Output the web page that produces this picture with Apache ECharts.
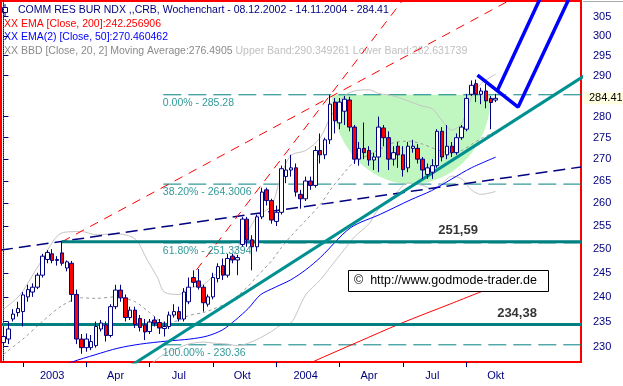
<!DOCTYPE html>
<html><head><meta charset="utf-8">
<script src="https://cdn.jsdelivr.net/npm/echarts@6/dist/echarts.min.js"></script>
<style>html,body{margin:0;padding:0;background:#fff}#c{width:623px;height:386px}</style>
</head><body><div id="c"></div>
<script>
const FONT = '"Liberation Sans", Arial, sans-serif';

// ---- categories: weekly candles from 08.12.2002 plus empty future weeks ----
const firstWeekUTC = Date.UTC(2002, 11, 8);
const weekCount = 119;
function pad(n){return (n<10?'0':'')+n;}
const categories = [];
for (let i = 0; i < weekCount; i++) {
  const d = new Date(firstWeekUTC + i * 7 * 86400000);
  categories.push(pad(d.getUTCDate()) + '.' + pad(d.getUTCMonth() + 1) + '.' + d.getUTCFullYear());
}

// ---- x axis ticks / labels ----
const xTickIdx = [4, 17, 30, 43, 56, 69, 82, 95];
const xLabelIdx = [10, 23, 36, 49, 62, 75, 88, 101];
const xLabelText = ['2003', 'Apr', 'Jul', 'Okt', '2004', 'Apr', 'Jul', 'Okt'];

// ---- y axis ticks ----
const yTickValues = [230, 235, 240, 245, 250, 255, 260, 265, 270, 275, 280, 290, 295, 300, 305];
const lastPrice = [284.41];

// ---- weekly candles [open, close, low, high] ----
const weeklyOHLC = [
[230.8,232.0,230.2,234.0],[231.5,233.5,230.5,235.0],[235.5,236.5,235.0,237.5],[236.8,237.6,236.0,239.0],
[237.0,240.4,234.0,241.0],[240.0,241.5,239.0,242.5],[241.0,242.0,240.0,242.8],[242.0,244.5,241.6,245.0],
[244.5,248.5,244.0,249.0],[247.8,249.3,247.0,249.8],[249.0,247.6,247.0,250.0],[247.6,247.8,246.5,248.5],
[249.2,247.0,246.5,251.59],[246.0,247.3,245.3,247.6],[247.0,240.5,239.0,247.5],[240.5,231.5,230.5,241.5],
[231.5,229.8,228.6,232.5],[229.8,231.5,229.0,232.6],[229.8,231.0,229.3,232.3],[230.2,234.0,229.8,235.0],
[233.5,234.7,233.0,235.3],[234.3,232.2,231.0,235.0],[232.2,238.0,231.8,238.5],[238.0,241.4,237.5,242.5],
[241.4,239.8,239.0,242.5],[239.8,235.8,235.0,240.5],[235.8,237.3,235.3,238.0],[237.3,234.4,233.7,238.0],
[235.6,233.8,233.0,236.3],[234.3,232.9,231.3,235.5],[233.0,234.9,232.5,235.5],[235.3,234.7,234.0,236.0],
[234.8,233.7,232.5,235.5],[233.6,234.0,232.0,235.0],[234.0,236.3,233.5,237.0],[236.3,237.0,235.8,238.5],
[237.0,235.5,235.0,238.0],[235.5,241.0,235.0,241.8],[239.0,242.0,238.5,244.0],[244.0,243.0,242.0,245.5],
[243.3,242.0,241.5,245.8],[242.0,238.8,237.0,242.5],[238.5,240.0,238.0,240.5],[240.0,244.0,239.5,245.0],
[243.8,246.3,243.0,247.0],[246.5,244.5,243.5,248.0],[244.5,248.0,244.0,249.0],[248.5,247.7,247.0,249.0],
[247.7,248.2,244.5,248.8],[251.0,256.5,250.5,257.0],[256.5,252.0,250.5,257.0],[252.0,250.5,245.5,253.0],
[250.5,257.0,249.5,257.5],[257.0,262.5,256.5,263.5],[263.0,260.6,259.5,263.5],[260.6,256.3,255.5,261.0],
[256.0,258.0,255.0,259.5],[258.0,267.8,257.5,268.5],[266.0,267.5,264.5,270.0],[267.5,268.0,266.0,271.0],
[268.0,262.5,261.5,269.0],[262.0,261.0,258.8,263.0],[261.0,265.0,260.5,266.0],[265.0,264.0,263.0,266.0],
[264.0,272.0,263.5,273.0],[272.0,271.0,269.0,276.0],[271.0,274.5,270.0,275.0],[274.5,283.0,273.5,285.28],
[283.5,279.0,276.0,284.5],[278.5,283.5,277.0,284.5],[281.3,284.2,278.0,285.0],[284.0,277.5,276.5,284.8],
[277.5,270.0,268.9,278.0],[270.0,272.5,268.5,274.0],[272.5,271.5,270.0,278.6],[272.0,269.8,268.5,273.0],
[269.8,270.5,267.5,271.5],[270.5,277.5,267.0,280.0],[277.3,275.0,273.0,278.0],[275.0,270.0,267.5,276.5],
[270.0,271.5,268.5,273.0],[273.0,271.0,268.0,274.0],[271.0,267.6,266.0,273.0],[268.0,273.0,267.0,274.0],
[272.5,273.0,271.5,274.5],[272.5,270.0,269.0,273.5],[270.0,267.5,265.5,270.5],[266.5,268.0,265.5,269.0],
[267.0,268.5,265.5,270.0],[268.5,276.5,268.0,277.0],[276.5,270.5,269.5,277.5],[271.0,273.0,270.0,278.0],
[273.0,271.5,270.5,274.0],[271.5,275.0,271.0,276.0],[275.0,277.5,274.5,278.0],[277.0,284.4,276.5,285.5],
[285.4,287.6,285.0,288.8],[288.0,285.4,283.5,289.0],[285.4,286.2,283.0,287.0],[286.2,283.8,282.0,288.0],
[284.4,283.4,277.0,285.0],[284.0,284.41,283.5,285.5]
];

// ---- indicators: [week index, value] ----
const ema200 = [[61,225.8],[63.4,227.0],[72.7,230.9],[81.5,234.6],[91.8,238.6],[101,242.26]];
const ema50 = [[9.6,225.1],[14.1,227.0],[18.8,228.4],[23.5,229.7],[28.1,230.5],[33.6,231.1],[38.3,231.5],
  [41.8,232.1],[44.9,233.3],[47.6,235.3],[50.3,237.7],[52.7,240.4],[55.8,242.0],[58.9,243.5],[62,245.6],
  [65.1,248.3],[71.2,254.6],[77.4,257.6],[83.6,260.8],[87.8,262.8],[91.9,265.4],[96,268.0],[101,270.46]];
const bbUpper = [[0,237.5],[3.4,240.4],[7.5,247.0],[12,253.5],[16,253.8],[19,253.1],[23,253.3],[27,252.2],
  [29.5,247.7],[31.6,244.0],[33,241.0],[36,240.5],[38,241.8],[41,242.5],[43,244.3],[46,246.5],[48,250.3],
  [50,253.5],[52,257.0],[55,259.5],[57,266.3],[59,270.9],[62,272.0],[65,275.0],[67,279.7],[70,285.0],
  [72,286.2],[75,286.5],[77,285.6],[80,285.0],[83,283.8],[86,282.5],[88,281.9],[90,279.0],[92,276.8],
  [94,278.4],[96,284.5],[98,288.0],[101,290.35]];
const bbMiddle = [[0,228.5],[4,231.5],[8,235.0],[12,238.2],[16,239.8],[19,239.7],[23,240.0],[27,239.0],
  [30,236.8],[33,234.8],[36,235.2],[38,236.2],[41,236.8],[43,237.5],[46,238.8],[48,240.2],[50,242.0],
  [52,244.2],[55,247.5],[57,250.3],[59,252.8],[62,256.2],[65,259.7],[67,262.9],[70,267.0],[72,269.4],
  [75,271.0],[77,272.2],[80,273.8],[83,274.2],[86,273.5],[88,272.6],[90,271.8],[92,271.4],[94,272.0],
  [96,273.4],[98,274.8],[101,276.49]];
const bbLower = [[12,223.5],[19,226.3],[23,226.0],[27,225.8],[30,226.5],[33,228.6],[36,229.8],[38,230.5],
  [41,230.9],[43,230.7],[46,230.5],[48,230.2],[50,230.6],[52,231.4],[55,233.0],[57,234.3],[59,234.7],
  [62,240.4],[65,243.5],[67,246.1],[70,250.0],[72,252.6],[75,255.5],[77,258.8],[80,261.5],[83,264.6],
  [86,264.0],[88,263.3],[90,264.5],[92,266.1],[94,265.5],[96,263.0],[98,262.0],[101,262.63]];

// ---- drawn analysis objects ----
const fibLevels = [285.28, 264.3006, 251.3394, 230.36];
const fibLabels = ['0.00% - 285.28', '38.20% - 264.3006', '61.80% - 251.3394', '100.00% - 230.36'];
const fibStartIdx = 32.8;
const supportLevels = [251.59, 234.38];
const supportStartIdx = [12.0, -0.5];
const supportLabels = ['251,59', '234,38'];
const supportLabelIdx = [89.3, 101.4];
const redFanFlat = [[12.0,251.59],[105.9,310.7]];
const redFanSteep = [[39.6,245.6],[82.75,310.7]];
const navyTrend = [[-0.5,249.8],[118.5,268.2]];
const tealTrend = [[26.0,226.2],[119.5,290.2]];
const projectionA = [[97.26,290.1],[105.6,282.3],[116.4,310.7]];
const projectionB = [[101.37,286.4],[110.45,310.7]];
const cupShape = [[83.7, 285.28, 16.3, 264.3]]; // centre week, rim, half width (weeks), bottom
const plotEndIdx = 118.5;

function lineSeries(data, color, width, type, z, smooth) {
  return { type: 'line', xAxisIndex: 1, yAxisIndex: 0, data: data, symbol: 'none', silent: true,
    smooth: smooth || false, lineStyle: { color: color, width: width, type: type || 'solid' }, z: z, clip: true };
}

const series = [];
series.push({
  type: 'custom', xAxisIndex: 1, yAxisIndex: 0, data: cupShape, silent: true, z: 1, clip: true,
  encode: { x: 0, y: [1, 3] },
  renderItem: function (params, api) {
    const c = api.coord([api.value(0), api.value(1)]);
    const e = api.coord([api.value(0) + api.value(2), api.value(3)]);
    const a = e[0] - c[0], b = e[1] - c[1];
    const pts = [];
    for (let k = 0; k <= 80; k++) { const t = Math.PI * k / 80; pts.push([c[0] + a * Math.cos(t), c[1] + b * Math.sin(t)]); }
    return { type: 'polygon', shape: { points: pts }, style: { fill: '#c0f7c0' } };
  }
});
fibLevels.forEach(function (v) {
  series.push(lineSeries([[fibStartIdx, v], [plotEndIdx, v]], '#008080', 1, [18, 7], 2));
});
series.push(lineSeries(bbUpper, '#c4c4c4', 1, 'solid', 3, 0.3));
series.push(lineSeries(bbLower, '#c4c4c4', 1, 'solid', 3, 0.3));
series.push(lineSeries(bbMiddle, '#9a9a9a', 1, [3, 3], 3, 0.3));
series.push(lineSeries(navyTrend, '#000080', 1.5, [12, 6], 3));
series.push(lineSeries(redFanFlat, '#ff0000', 1, [9, 7], 3));
series.push(lineSeries(redFanSteep, '#ff0000', 1, [9, 7], 3));
series.push(lineSeries(ema200, '#ff0000', 1, 'solid', 3, 0.3));
series.push(lineSeries(ema50, '#0000ff', 1, 'solid', 3, 0.3));
supportLevels.forEach(function (v, k) {
  series.push(lineSeries([[supportStartIdx[k], v], [plotEndIdx, v]], '#008080', 3, 'solid', 4));
});
series.push(lineSeries(tealTrend, '#009090', 3, 'solid', 4));
series.push({
  type: 'candlestick', xAxisIndex: 0, yAxisIndex: 0, data: weeklyOHLC, barWidth: 4, silent: true, z: 5,
  itemStyle: { color: '#ffffff', color0: '#ff0000', borderColor: '#000080', borderColor0: '#000080', borderWidth: 1 }
});
series.push(lineSeries(projectionA, '#0000ff', 3.5, 'solid', 6));
series.push(lineSeries(projectionB, '#0000ff', 3.5, 'solid', 6));
series.push({
  type: 'scatter', xAxisIndex: 1, yAxisIndex: 0, symbol: 'rect', symbolSize: 1, silent: true, z: 7,
  itemStyle: { color: 'rgba(255,255,255,0)' },
  data: fibLevels.map(function (v) { return [fibStartIdx, v]; }),
  label: { show: true, position: [0, 3], align: 'left', verticalAlign: 'top', color: '#008080',
    fontSize: 10.5, fontFamily: FONT, formatter: function (p) { return fibLabels[p.dataIndex]; } }
});
series.push({
  type: 'scatter', xAxisIndex: 1, yAxisIndex: 0, symbol: 'rect', symbolSize: 1, silent: true, z: 7,
  itemStyle: { color: 'rgba(255,255,255,0)' },
  data: supportLevels.map(function (v, k) { return [supportLabelIdx[k], v]; }),
  label: { show: true, position: [0, -17], align: 'left', verticalAlign: 'top', color: '#000000',
    fontSize: 13, fontWeight: 'bold', fontFamily: FONT, formatter: function (p) { return supportLabels[p.dataIndex]; } }
});

const option = {
  animation: false,
  backgroundColor: '#ffffff',
  grid: { left: 1, right: 42, top: 1, bottom: 24, show: true, borderColor: '#ff0000', borderWidth: 2,
    backgroundColor: '#ffffff', outerBoundsMode: 'none', containLabel: false },
  xAxis: [
    { type: 'category', data: categories, boundaryGap: true,
      axisLine: { show: false },
      axisTick: { show: true, alignWithLabel: true, length: 5, lineStyle: { color: '#000080' },
        interval: function (idx) { return xTickIdx.indexOf(idx) >= 0; } },
      axisLabel: { color: '#000080', fontSize: 11, fontFamily: FONT, margin: 8,
        interval: function (idx) { return xLabelIdx.indexOf(idx) >= 0; },
        formatter: function (v, idx) { const k = xLabelIdx.indexOf(idx); return k >= 0 ? xLabelText[k] : ''; } },
      splitLine: { show: false } },
    { type: 'value', min: -0.5, max: plotEndIdx, show: false }
  ],
  yAxis: [
    { type: 'log', logBase: 10, min: 227, max: 309.1, position: 'right', offset: 2,
      axisLine: { show: true, lineStyle: { color: '#000080', type: 'dotted', width: 1 } },
      axisTick: { show: true, length: 5, customValues: yTickValues, lineStyle: { color: '#000080' } },
      axisLabel: { customValues: yTickValues, color: '#000080', fontSize: 11, fontFamily: FONT, margin: 10,
        formatter: function (v) { return String(Math.round(v)); } },
      splitLine: { show: false } },
    { type: 'log', logBase: 10, min: 227, max: 309.1, position: 'right', offset: 2,
      axisLine: { show: false },
      axisTick: { show: false },
      axisLabel: { customValues: lastPrice, color: '#000000', fontSize: 11, fontFamily: FONT, margin: 1,
        backgroundColor: '#ffffe1', padding: [1, 2, 0, 5], formatter: function (v) { return '284.41'; } },
      splitLine: { show: false } }
  ],
  series: series,
  graphic: [
    { type: 'line', shape: { x1: 583, y1: 1.5, x2: 623, y2: 1.5 }, style: { stroke: '#a8a8a8', lineWidth: 1 } },
    { type: 'line', shape: { x1: 5, y1: 4, x2: 5, y2: 16 }, style: { stroke: '#000080', lineWidth: 1 } },
    { type: 'rect', shape: { x: 2.5, y: 7.5, width: 5, height: 5 }, style: { fill: '#ffffff', stroke: '#000080', lineWidth: 1 } },
    { type: 'text', x: 18, y: 10, style: { text: 'COMM RES BUR NDX ,,CRB, Wochenchart - 08.12.2002 - 14.11.2004 - 284.41',
      fill: '#000080', font: '10.5px ' + FONT, verticalAlign: 'middle' } },
    { type: 'text', x: 4, y: 24, style: { text: 'XX EMA [Close, 200]:242.256906', fill: '#ff0000', font: '10.5px ' + FONT, verticalAlign: 'middle' } },
    { type: 'text', x: 4, y: 37.5, style: { text: 'XX EMA(2) [Close, 50]:270.460462', fill: '#0000ff', font: '10.5px ' + FONT, verticalAlign: 'middle' } },
    { type: 'text', x: 4, y: 51.5, style: { text: '{a|XX BBD [Close, 20, 2] Moving Average:276.4905} {b|Upper Band:290.349261 Lower Band:262.631739}',
      font: '10.5px ' + FONT, verticalAlign: 'middle',
      rich: { a: { fill: '#8a8a8a', font: '10.5px ' + FONT }, b: { fill: '#c0c0c0', font: '10.5px ' + FONT } } } },
    { type: 'rect', shape: { x: 348.5, y: 270.5, width: 200, height: 21 }, style: { fill: '#ffffff', stroke: '#000000', lineWidth: 1 }, z: 100 },
    { type: 'text', x: 354, y: 281, z: 101, style: { text: '\u00A9  http://www.godmode-trader.de', fill: '#000000', font: '12.5px ' + FONT, verticalAlign: 'middle' } }
  ]
};

const chart = echarts.init(document.getElementById('c'), null, { renderer: 'canvas' });
chart.setOption(option);
</script>
</body></html>
